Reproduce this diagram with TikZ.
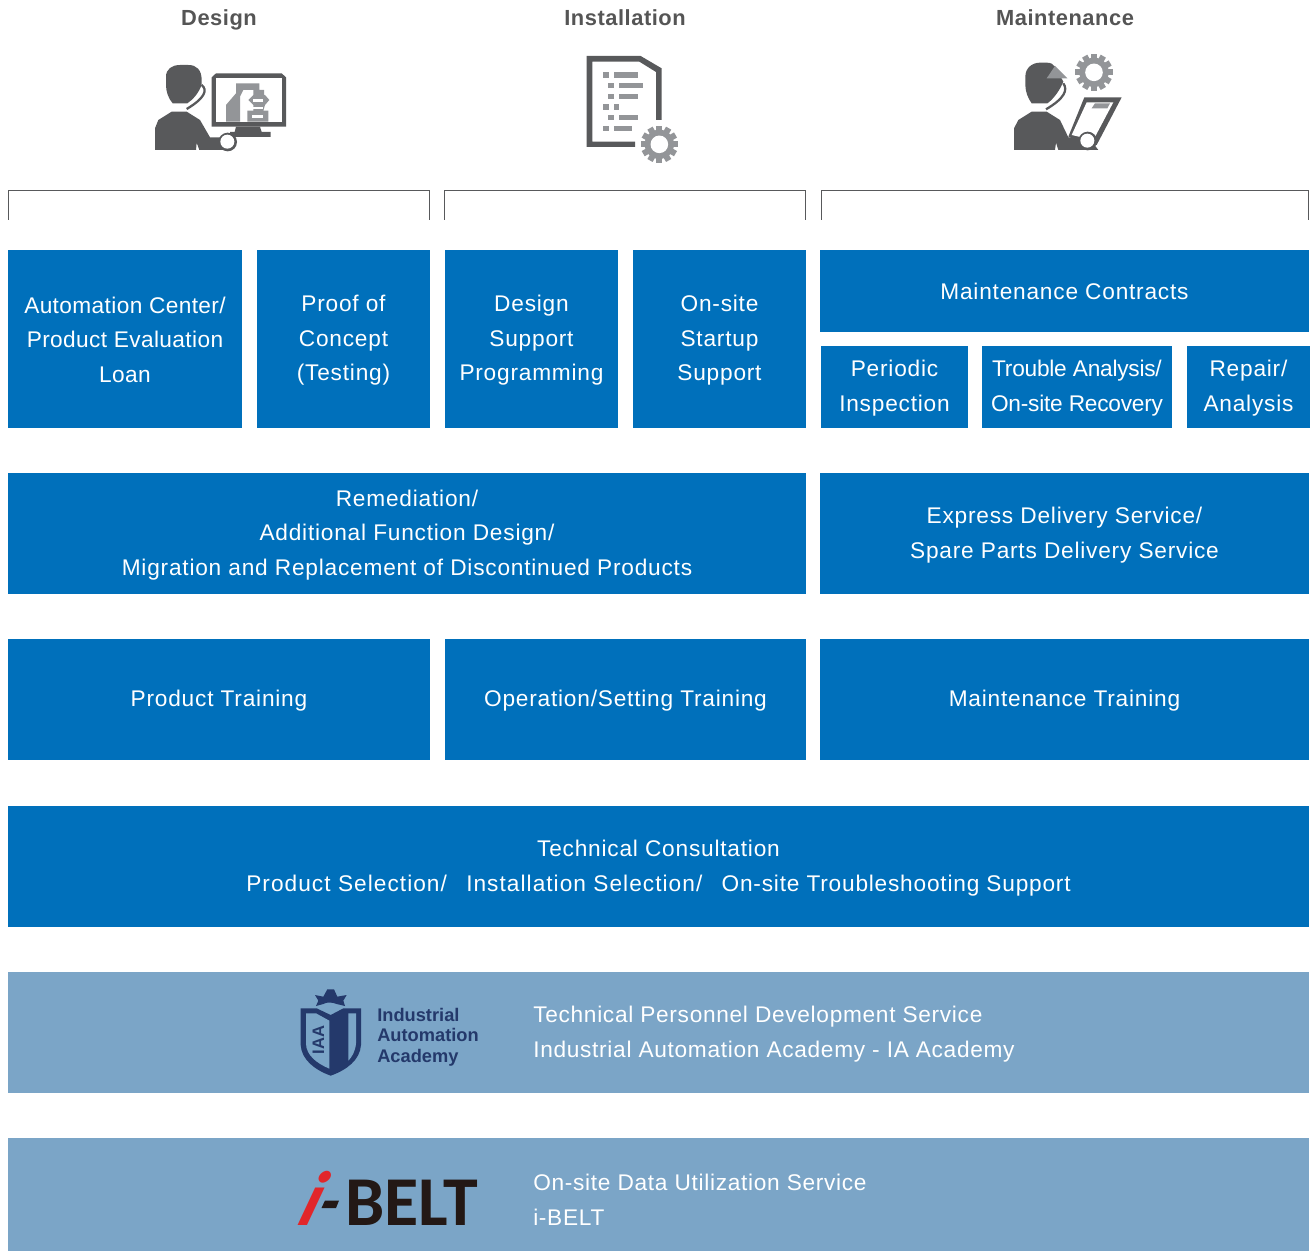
\documentclass[tikz,border=0pt]{standalone}
\usepackage{fontspec}
\setmainfont{Liberation Sans}
\newfontfamily\svcfont[LetterSpace=3.5]{Liberation Sans}
\newfontfamily\narrowfont[LetterSpace=1.7]{Liberation Sans}
\newfontfamily\widefont[LetterSpace=4.6]{Liberation Sans}
\newfontfamily\tightfont[LetterSpace=-1]{Liberation Sans}
\newfontfamily\palefont[LetterSpace=3.1]{Liberation Sans}
\newfontfamily\headfont[LetterSpace=2.5]{Liberation Sans}
\newfontfamily\logofont{Carlito}
\definecolor{svcblue}{HTML}{0070BB}
\definecolor{paleblue}{HTML}{7BA5C7}
\definecolor{icondark}{HTML}{58595B}
\definecolor{icongray}{HTML}{939598}
\definecolor{headcol}{HTML}{555555}
\definecolor{navy}{HTML}{24396B}
\definecolor{beltred}{HTML}{E1262A}
\definecolor{beltblack}{HTML}{231815}
\tikzset{
  svcbox/.style={fill=svcblue,draw=none,inner sep=0pt,text=white,align=center,
    font=\svcfont\fontsize{17pt}{26pt}\selectfont},
  paletext/.style={anchor=west,inner sep=0pt,text=white,align=left,
    font=\palefont\fontsize{17pt}{26pt}\selectfont},
  headtext/.style={text=headcol,inner sep=0pt,anchor=base,font=\headfont\bfseries\fontsize{16.4pt}{20pt}\selectfont},
  bracket/.style={draw=icondark,line width=0.7pt},
  icon/.style={x=0.25pt,y=-0.25pt},
}
\newcommand{\tb}{\rule{0pt}{14.5pt}}
\newcommand{\te}{\rule[-1pt]{0pt}{1pt}}
% name, x0, y0, x1, y1, text
\newcommand{\bx}[6]{%
  \pgfmathsetmacro{\bxw}{(#4-#2)*0.75}\pgfmathsetmacro{\bxh}{(#5-#3)*0.75}%
  \node[svcbox,minimum width=\bxw pt,minimum height=\bxh pt] (#1) at ({(#2+#4)/2},{(#3+#5)/2}) {\tb #6\te};}
\newcommand{\gearshape}[4]{% cx cy Router Rring
  \foreach \a in {0,30,...,150}{
    \fill[icongray,rotate around={\a:(#1,#2)}] (#1-9,#2-#3) rectangle (#1+9,#2+#3);}
  \fill[icongray] (#1,#2) circle (#4);
  \fill[white] (#1,#2) circle (#4*0.6);}
\newcommand{\lst}[4]{% square x, y, bar x end, bar x start
  \fill[icongray] (#1,#2) rectangle ++(16,16);
  \fill[icongray] (#4,#2) rectangle (#3,#2+16);}
\begin{document}
\begin{tikzpicture}[x=0.75pt,y=-0.75pt]
\useasboundingbox (0,0) rectangle (1314,1251);
% headings
\node[headtext] (hDesign) at (219,26) {Design};
\node[headtext] (hInstall) at (625,26) {Installation};
\node[headtext] (hMaint) at (1065,26) {Maintenance};
% brackets
\draw[bracket] (8.5,220) -- (8.5,190.5) -- (429.5,190.5) -- (429.5,220);
\draw[bracket] (444.5,220) -- (444.5,190.5) -- (805.5,190.5) -- (805.5,220);
\draw[bracket] (821.5,220) -- (821.5,190.5) -- (1308.5,190.5) -- (1308.5,220);
% boxes
\bx{autoc}{8}{250}{242}{428}{\narrowfont Automation Center/\\\narrowfont Product Evaluation\\\narrowfont Loan}
\bx{proof}{257}{250}{430}{428}{Proof of\\Concept\\(Testing)}
\bx{dsp}{445}{250}{618}{428}{Design\\Support\\Programming}
\bx{startup}{633}{250}{806}{428}{On-site\\Startup\\Support}
\bx{contracts}{820}{250}{1309}{332}{Maintenance Contracts}
\bx{periodic}{821}{346}{968}{428}{Periodic\\Inspection}
\bx{trouble}{982}{346}{1172}{428}{\tightfont Trouble Analysis/\\\tightfont On-site Recovery}
\bx{repair}{1187}{346}{1310}{428}{Repair/\\Analysis}
\bx{remed}{8}{473}{806}{594}{Remediation/\\Additional Function Design/\\Migration and Replacement of Discontinued Products}
\bx{express}{820}{473}{1309}{594}{Express Delivery Service/\\Spare Parts Delivery Service}
\bx{ptrain}{8}{639}{430}{760}{Product Training}
\bx{otrain}{445}{639}{806}{760}{Operation/Setting Training}
\bx{mtrain}{820}{639}{1309}{760}{Maintenance Training}
\bx{consult}{8}{806}{1309}{927}{Technical Consultation\\{\widefont Product Selection/\hspace{14.5pt}Installation Selection/}\hspace{14.5pt}On-site Troubleshooting Support}
% pale bands
\fill[paleblue] (8,972) rectangle (1309,1093);
\fill[paleblue] (8,1138) rectangle (1309,1251);
\node[paletext] (iatext) at (533,1033) {\tb Technical Personnel Development Service\\Industrial Automation Academy - IA Academy\te};
\node[paletext] (belttext) at (533,1199) {\tb On-site Data Utilization Service\\i-BELT\te};
% design icon
\begin{scope}[shift={(130,40)},icon]
  \fill[icondark] (75,330) -- (75,265) -- (85,240) -- (125,215) -- (170,215) -- (210,240) -- (240,292) -- (300,292) -- (300,330) -- (208,330) -- (200,308) -- (198,330) -- cycle;
  \fill[icondark] (108,110) .. controls (108,88) and (125,75) .. (150,75) -- (175,75) .. controls (200,75) and (215,90) .. (215,120) -- (215,135) .. controls (205,160) and (190,178) .. (172,190) -- (128,190) .. controls (115,175) and (108,155) .. (108,135) -- cycle;
  \draw[icondark,line width=1.7pt] (215,135) .. controls (234,150) and (224,175) .. (170,207);
  \fill[icondark] (245,112) -- (258,100) -- (455,100) -- (468,112) -- (468,260) -- (245,260) -- cycle;
  \fill[white] (258,115) rectangle (455,245);
  \fill[icondark] (318,260) -- (390,260) -- (395,276) -- (422,276) -- (422,291) -- (300,291) -- (300,276) -- (314,276) -- cycle;
  \fill[icongray] (288,245) -- (288,195) -- (318,160) -- (318,130) -- (388,130) -- (388,150) -- (402,150) -- (402,165) -- (370,165) -- (370,150) -- (340,150) -- (330,170) -- (330,245) -- cycle;
  \fill[icongray] (355,180) -- (370,165) -- (405,165) -- (418,180) -- (405,195) -- (400,212) -- (415,212) -- (415,245) -- (352,245) -- (352,212) -- (370,212) -- (370,195) -- cycle;
  \fill[white] (370,178) rectangle (400,185);
  \fill[white] (367,200) rectangle (400,207);
  \fill[white] (367,224) rectangle (400,234);
  \fill[icondark] (293,306) circle (28);
  \fill[white] (292,305) circle (21);
\end{scope}
% installation icon
\begin{scope}[shift={(570,40)},icon]
  \fill[icondark] (50,48) -- (212,48) -- (275,85) -- (275,240) -- (258,240) -- (258,96) -- (208,65) -- (67,65) -- (67,305) -- (195,305) -- (195,321) -- (50,321) -- cycle;
  \lst{100}{97}{203}{131}
  \lst{115}{129}{219}{147}
  \lst{115}{161}{203}{147}
  \lst{100}{193}{147}{131}
  \lst{115}{225}{203}{147}
  \lst{100}{257}{187}{131}
  \gearshape{268}{313}{56}{44}
\end{scope}
% maintenance icon
\begin{scope}[shift={(1000,40)},icon]
  \gearshape{282}{97}{56}{44}
  \fill[icondark] (42,330) -- (42,265) -- (55,240) -- (95,215) -- (140,215) -- (180,240) -- (205,292) -- (265,292) -- (295,330) -- (175,330) -- (168,308) -- (165,330) -- cycle;
  \fill[icondark] (76,110) .. controls (76,85) and (95,68) .. (120,68) -- (140,68) .. controls (152,68) and (160,72) .. (165,80) -- (190,125) .. controls (180,150) and (160,178) .. (142,190) -- (95,190) .. controls (84,175) and (76,155) .. (76,135) -- cycle;
  \fill[icongray] (140,115) -- (165,78) -- (202,115) -- cycle;
  \draw[icondark,line width=1.7pt] (190,130) .. controls (204,150) and (194,175) .. (138,208);
  \fill[icondark] (253,172) -- (365,172) -- (290,315) -- (265,315) -- (205,290) -- cycle;
  \fill[white] (260,187) -- (340,187) -- (280,300) -- (215,285) -- cycle;
  \fill[icongray] (285,190) -- (330,190) -- (322,205) -- (275,205) -- cycle;
  \fill[icondark] (263,303) circle (28);
  \fill[white] (262,302) circle (21);
\end{scope}
% IA logo
\begin{scope}[shift={(280,980)},icon]
  \fill[navy] (105,45) -- (130,50) -- (142,28) -- (162,28) -- (172,50) -- (200,45) -- (190,62) -- (195,78) -- (170,72) .. controls (155,66) and (140,66) .. (130,72) -- (108,78) -- (115,62) -- cycle;
  \fill[navy] (62,85) -- (110,85) -- (152,105) -- (190,85) -- (243,85) -- (243,195) .. controls (240,240) and (200,270) .. (152,287) .. controls (105,270) and (65,240) .. (62,195) -- cycle;
  \fill[paleblue] (78,100) -- (108,100) -- (148,122) -- (148,266) .. controls (110,250) and (78,225) .. (78,190) -- cycle;
  \fill[paleblue] (205,100) -- (228,100) -- (228,190) .. controls (226,215) and (215,232) .. (205,242) -- cycle;
  \node[text=navy,inner sep=0pt,rotate=90,font=\bfseries\fontsize{12.5pt}{13pt}\selectfont] (iaa) at (115,180) {IAA};
\end{scope}
\node[text=navy,anchor=west,align=left,inner sep=0pt,font=\bfseries\fontsize{13.7pt}{15.5pt}\selectfont] (ialogo) at (377,1037) {Industrial\\Automation\\Academy};
% i-BELT logo
\node[text=beltblack,anchor=base west,inner sep=0pt,font=\logofont\bfseries\fontsize{52.5pt}{52pt}\selectfont] (belt) at (345,1225) {BELT};
\node[text=beltred,anchor=base,inner sep=0pt,xslant=0.35,font=\logofont\bfseries\itshape\fontsize{58pt}{58pt}\selectfont] (ilogo) at (305,1225) {i};
\fill[beltblack] (321.5,1208) -- (325,1200.5) -- (339,1200.5) -- (336,1208) -- cycle;
\end{tikzpicture}
\end{document}
